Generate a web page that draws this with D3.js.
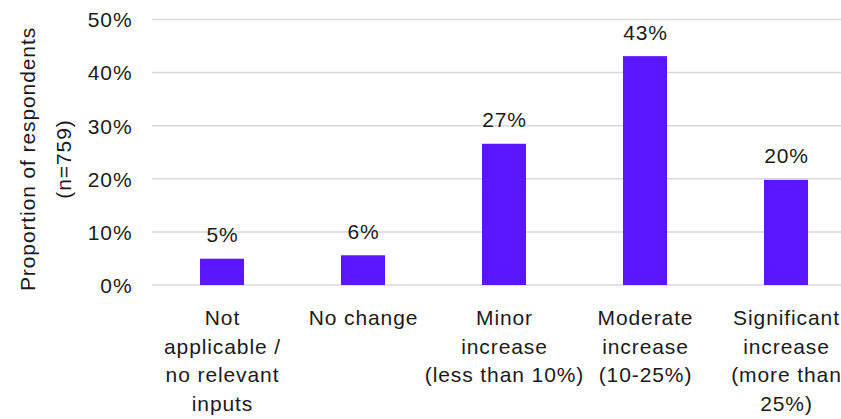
<!DOCTYPE html>
<html>
<head>
<meta charset="utf-8">
<script src="https://cdn.jsdelivr.net/npm/d3@7"></script>
<style>
  html, body { margin: 0; padding: 0; background: #fff; }
  svg text { font-family: "Liberation Sans", Arial, sans-serif; fill: #1a1a1a; letter-spacing: 0.9px; }
</style>
</head>
<body>
<svg id="chart" width="841" height="419"></svg>
<script>
// Survey responses: change in inputs
const categories = [
  ["Not", "applicable /", "no relevant", "inputs"],
  ["No change"],
  ["Minor", "increase", "(less than 10%)"],
  ["Moderate", "increase", "(10-25%)"],
  ["Significant", "increase", "(more than", "25%)"]
];
const values = [4.95, 5.6, 26.6, 43.1, 19.8];
const valueLabels = ["5%", "6%", "27%", "43%", "20%"];
const yTicks = [0, 10, 20, 30, 40, 50];
const yTitle = ["Proportion of respondents", "(n=759)"];

const svg = d3.select("#chart");
const fs = 21;

const x = d3.scaleBand()
  .domain(d3.range(categories.length))
  .range([151.5, 856.5])
  .paddingInner(0.688)
  .paddingOuter(0.344);

const y = d3.scaleLinear().domain([0, 50]).range([285, 19.5]);

// gridlines
svg.append("g")
  .selectAll("line")
  .data(yTicks)
  .join("line")
  .attr("x1", 152).attr("x2", 841)
  .attr("y1", d => y(d)).attr("y2", d => y(d))
  .attr("stroke", "#d9d9d9")
  .attr("stroke-width", 1.5);

// y axis tick labels
const yAxis = d3.axisLeft(y).tickValues(yTicks).tickSize(0).tickPadding(0)
  .tickFormat(d => d + "%");
svg.append("g")
  .attr("transform", "translate(132.5,0)")
  .call(yAxis)
  .call(g => g.select(".domain").remove())
  .call(g => g.selectAll("text")
    .attr("font-size", fs)
    .attr("font-family", null)
    .attr("fill", null)
    .attr("dy", "0.35em"));

// y axis title
const yt = svg.append("text")
  .attr("transform", `translate(35,159) rotate(-90)`)
  .attr("text-anchor", "middle")
  .attr("font-size", fs);
yt.selectAll("tspan").data(yTitle).join("tspan")
  .attr("x", 0).attr("y", (d, i) => i * 36)
  .text(d => d);

// bars
svg.append("g")
  .selectAll("rect")
  .data(values)
  .join("rect")
  .attr("x", (d, i) => x(i))
  .attr("width", x.bandwidth())
  .attr("y", d => y(d))
  .attr("height", d => y(0) - y(d))
  .attr("fill", "#5a16ff");

// value labels
svg.append("g")
  .selectAll("text")
  .data(values)
  .join("text")
  .attr("x", (d, i) => x(i) + x.bandwidth() / 2 + 0.5)
  .attr("y", d => y(d) - 16.5)
  .attr("text-anchor", "middle")
  .attr("font-size", fs)
  .text((d, i) => valueLabels[i]);

// category labels
const cat = svg.append("g")
  .selectAll("text")
  .data(categories)
  .join("text")
  .attr("x", (d, i) => x(i) + x.bandwidth() / 2 + 0.5)
  .attr("y", 325)
  .attr("text-anchor", "middle")
  .attr("font-size", fs);
cat.selectAll("tspan")
  .data(d => d)
  .join("tspan")
  .attr("x", function() { return this.parentNode.getAttribute("x"); })
  .attr("dy", (d, i) => i === 0 ? 0 : 28.7)
  .text(d => d);
</script>
</body>
</html>
